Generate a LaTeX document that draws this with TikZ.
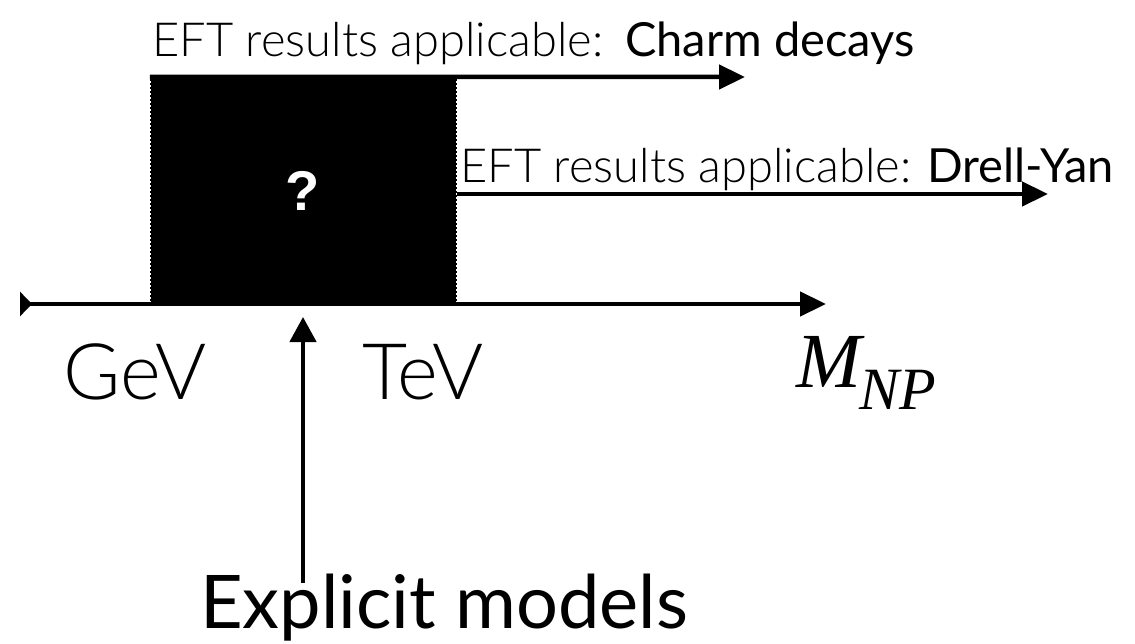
\documentclass[tikz,border=0pt]{standalone}
\usepackage{fontspec}
\setmainfont{Lato}
\newfontfamily\lightfont{Lato Light}
\newfontfamily\qfont{Liberation Sans}
\newfontfamily\serifit{Liberation Serif}
\usetikzlibrary{arrows.meta}

\tikzset{
  thick arrow/.style={line width=4.5pt, -{Triangle[length=26pt,width=24pt]}},
  lbl/.style={inner sep=0pt, anchor=base west},
  small text/.style={lbl, font=\lightfont\fontsize{47}{47}\selectfont},
  small bold/.style={lbl, font=\fontsize{47}{47}\selectfont},
  unit text/.style={lbl, font=\lightfont\fontsize{78}{78}\selectfont},
  edge dash/.style={white, line width=1pt, dash pattern=on 2pt off 2pt},
}

\begin{document}
\begin{tikzpicture}[x=1pt,y=-1pt]
\useasboundingbox (0,0) rectangle (1135,644);

% unknown region between GeV and TeV
\node (box) [fill=black, minimum width=307pt, minimum height=225pt, inner sep=0pt]
  at (303.5,189.5) {};
\node (q) at (303,191) {\qfont\bfseries\fontsize{56}{56}\selectfont\color{white}?};
\draw[edge dash] ([xshift=0.5pt]box.north west) -- ([xshift=0.5pt]box.south west);
\draw[edge dash] ([xshift=-0.5pt]box.north east) -- ([xshift=-0.5pt]box.south east);

% ranges of applicability
\coordinate (c1end) at (745,77);
\coordinate (d1start) at (457,194);
\coordinate (d1end) at (1048,194);
\draw[thick arrow] (box.north west) -- (c1end);
\draw[thick arrow] (d1start) -- (d1end);

% mass axis
\coordinate (axL) at (20,304);
\coordinate (axR) at (826,304);
\draw[line width=4.5pt, {Triangle[reversed,length=12pt,width=24pt]}-{Triangle[length=26pt,width=24pt]}] (axL) -- (axR);

% labels
\node (charmA) [small text] at (152,57) {EFT results applicable:};
\node (charmB) [small bold] at (625,57) {Charm decays};
\node (dyA) [small text] at (460,183) {EFT results applicable:};
\node (dyB) [small bold] at (927,183) {Drell-Yan};
\node (gev) [unit text] at (63,399) {GeV};
\node (tev) [unit text] at (362,399) {TeV};
\node (mnp) [lbl] at (796,387)
  {\serifit\itshape\fontsize{78}{78}\selectfont M\kern-2pt\raisebox{-22pt}{\fontsize{60}{60}\selectfont NP}};
\node (expl) [lbl] at (200,628) {\fontsize{74}{74}\selectfont Explicit models};

% explicit models probe the region in between
\coordinate (vbot) at (303,583);
\coordinate (vtop) at (303,317);
\draw[line width=4.5pt, -{Triangle[length=25pt,width=26pt]}] (vbot) -- (vtop);
\end{tikzpicture}
\end{document}
